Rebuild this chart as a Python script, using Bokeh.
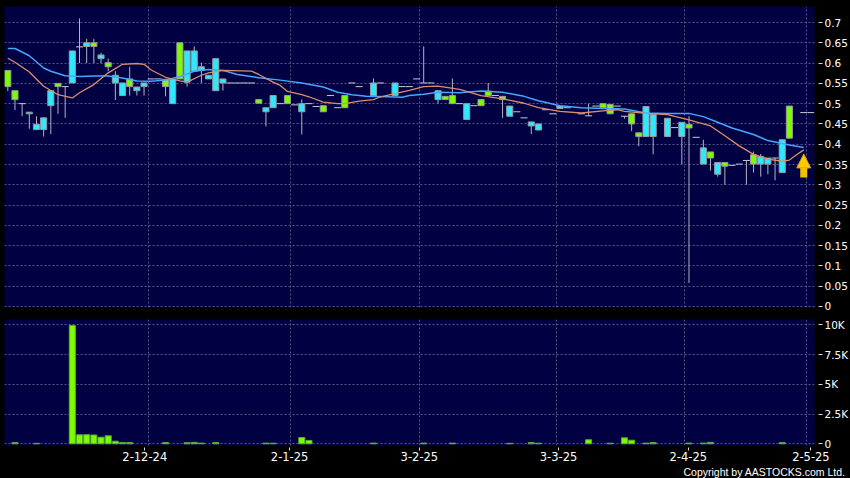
from bokeh.plotting import figure
from bokeh.layouts import column
from bokeh.models import (ColumnDataSource, FixedTicker, Range1d, NumeralTickFormatter,
                          Title, Arrow, NormalHead)
from bokeh.embed import file_html
from bokeh.resources import INLINE

# ---------------- data ----------------
days = [0, 1, 2, 3, 4, 5, 6, 7, 8, 9, 10, 11, 12, 13, 14, 15, 16, 17, 18, 19,
        20, 21, 22, 23, 24, 25, 26, 27, 28, 29, 30, 31, 32, 33, 34, 35, 36, 37, 38, 39,
        40, 41, 42, 43, 44, 45, 46, 47, 48, 49, 51, 52, 54, 55, 56, 57, 58, 59,
        60, 61, 62, 63, 64, 65, 66, 67, 68, 69, 70, 71, 72, 73, 74, 75, 76, 77, 78,
        80, 81, 82, 83, 84, 85, 86, 87, 88, 89, 90, 92, 93, 94, 95, 96, 97, 98, 99,
        100, 101, 102, 103, 104, 105, 106, 107, 108, 109, 111, 112]
opens = [.542, .510, .500, .479, .449, .465, .532, .542, .542, .630, .640, .650, .641, .620, .591, .570, .551, .542, .541, .551,
         .561, .561, .542, .561, .561, .630, .630, .591, .570, .611, .561, .551, .551, .551, .551, .501, .490, .520, .500, .500,
         .497, .500, .500, .493, .480, .520, .490, .490, .551, .542, .551, .551, .551, .542, .542, .561, .551, .551,
         .532, .510, .500, .500, .500, .495, .495, .520, .520, .510, .494, .480, .465, .455, .450, .485, .475, .494, .490,
         .475, .470, .494, .490, .475, .494, .469, .450, .419, .493, .474, .464, .441, .454, .440, .417, .391, .366, .355,
         .346, .348, .351, .360, .351, .370, .366, .366, .411, .415, .478, .478]
highs = [.582, .532, .500, .479, .469, .465, .532, .550, .542, .630, .710, .660, .660, .625, .611, .580, .551, .591, .541, .551,
         .561, .561, .560, .561, .650, .630, .641, .601, .570, .611, .561, .551, .551, .551, .551, .510, .490, .520, .500, .520,
         .497, .510, .500, .493, .495, .520, .490, .520, .551, .542, .562, .551, .551, .542, .542, .561, .641, .551,
         .532, .518, .562, .500, .500, .495, .510, .551, .520, .518, .494, .480, .465, .455, .450, .485, .475, .494, .490,
         .475, .500, .494, .500, .498, .494, .469, .475, .428, .493, .474, .464, .441, .454, .469, .417, .411, .381, .355,
         .355, .348, .351, .360, .382, .376, .366, .366, .411, .494, .478, .478]
lows = [.531, .484, .469, .438, .436, .419, .425, .475, .465, .551, .600, .600, .600, .600, .580, .509, .520, .520, .520, .520,
        .561, .561, .518, .500, .561, .542, .580, .551, .561, .532, .532, .551, .551, .551, .551, .501, .444, .490, .500, .500,
        .497, .424, .500, .493, .480, .520, .490, .490, .551, .542, .520, .551, .520, .542, .542, .561, .551, .551,
        .500, .510, .500, .500, .461, .495, .495, .520, .520, .465, .469, .480, .465, .425, .435, .485, .475, .488, .490,
        .475, .470, .494, .490, .475, .494, .463, .432, .395, .419, .375, .419, .441, .351, .058, .417, .351, .335, .320,
        .300, .348, .351, .300, .330, .320, .326, .311, .330, .415, .478, .478]
closes = [.582, .532, .500, .475, .436, .436, .495, .550, .542, .551, .640, .641, .650, .611, .601, .551, .520, .561, .532, .542,
          .561, .561, .560, .500, .650, .553, .580, .582, .561, .532, .551, .551, .551, .551, .551, .510, .480, .490, .500, .520,
          .497, .480, .500, .493, .495, .520, .490, .520, .551, .542, .520, .551, .520, .542, .542, .561, .551, .551,
          .510, .518, .520, .500, .461, .495, .510, .531, .520, .518, .469, .480, .465, .445, .435, .485, .475, .488, .490,
          .475, .470, .494, .500, .498, .494, .469, .475, .428, .419, .419, .419, .441, .419, .449, .417, .351, .381, .326,
          .355, .348, .351, .360, .374, .351, .351, .366, .330, .494, .478, .478]

vol_days = [1, 4, 9, 10, 11, 12, 13, 14, 15, 16, 17, 22, 25, 26, 27, 29, 36, 37, 41, 42,
            51, 58, 62, 70, 73, 74, 81, 84, 86, 87, 89, 90, 95, 97, 98, 108]
vol_values = [110, 40, 9950, 756, 765, 740, 555, 670, 220, 110, 110, 110, 90, 120, 60, 100, 60, 50, 530, 280,
              60, 60, 60, 40, 100, 50, 340, 50, 500, 300, 60, 100, 60, 60, 120, 100]

ma_slow_days = [0, 1, 3, 5, 6, 8, 10, 12, 14, 16, 18, 20, 22, 24, 26, 28, 30, 32, 35, 38, 41, 44, 46, 48, 50,
                53, 55, 56, 58, 60, 63, 66, 69, 72, 74, 77, 80, 83, 86, 89, 92, 95, 97, 99, 101, 104, 106, 109, 111]
ma_slow = [.636, .636, .618, .588, .580, .569, .567, .568, .568, .563, .556, .555, .558, .567, .580, .584, .582, .572,
           .564, .558, .551, .541, .528, .522, .518, .517, .516, .520, .523, .528, .527, .531, .528, .518, .507, .495,
           .490, .488, .487, .477, .476, .476, .468, .454, .440, .424, .409, .398, .392]
ma_fast_days = [0, 1, 3, 5, 7, 9, 10, 12, 14, 16, 18, 19, 20, 22, 24, 25, 27, 28, 30, 34, 35, 37, 38, 39, 41, 42,
                44, 46, 47, 49, 51, 52, 54, 56, 58, 60, 63, 66, 69, 72, 74, 77, 80, 83, 85, 86, 89, 92, 95, 98,
                100, 102, 104, 106, 108, 109, 110, 111]
ma_fast = [.612, .602, .578, .543, .522, .514, .527, .547, .576, .597, .599, .597, .583, .565, .556, .553, .570, .576,
           .582, .580, .572, .553, .545, .530, .522, .517, .504, .500, .500, .506, .510, .517, .525, .533, .542, .543,
           .535, .520, .512, .501, .490, .481, .477, .482, .485, .481, .476, .473, .460, .445, .421, .396, .375, .363,
           .358, .361, .374, .386]

price_ticks = [0, 0.05, 0.1, 0.15, 0.2, 0.25, 0.3, 0.35, 0.4, 0.45, 0.5, 0.55, 0.6, 0.65, 0.7]
vol_ticks = [0, 2500, 5000, 7500, 10000]
vol_labels = ["0", "2.5K", "5K", "7.5K", "10K"]
month_grid_days = [19.6, 39.4, 57.4, 76.5, 94.4, 111.4]
month_label_days = [19.1, 39.3, 57.4, 76.8, 94.9, 112.0]
month_labels = ["2-12-24", "2-1-25", "3-2-25", "3-3-25", "2-4-25", "2-5-25"]
arrow_day, arrow_low, arrow_high = 111, 0.318, 0.376
copyright_text = "Copyright by AASTOCKS.com Ltd."

# ---------------- styling ----------------
NAVY = "#000042"
GRIDC = "#55558a"
GREEN = "#7cfc00"
CYAN = "#2ee8ff"
WICK = "#b4b4c0"
FONT = "DejaVu Sans"

up_i = [i for i in range(len(days)) if closes[i] > opens[i]]
dn_i = [i for i in range(len(days)) if closes[i] < opens[i]]
fl_i = [i for i in range(len(days)) if closes[i] == opens[i]]

src_all = ColumnDataSource(dict(x=days, lo=lows, hi=highs))
src_up = ColumnDataSource(dict(x=[days[i] for i in up_i], top=[closes[i] for i in up_i],
                               bottom=[opens[i] for i in up_i]))
src_dn = ColumnDataSource(dict(x=[days[i] for i in dn_i], top=[opens[i] for i in dn_i],
                               bottom=[closes[i] for i in dn_i]))
src_fl = ColumnDataSource(dict(x=[days[i] for i in fl_i], y=[opens[i] for i in fl_i]))

x_rng = Range1d(-0.46, 112.5)

common = dict(output_backend="svg", toolbar_location=None, frame_width=810,
              background_fill_color=NAVY, border_fill_color="black", outline_line_color=None,
              min_border_left=4, min_border_right=36, y_axis_location="right")

p = figure(frame_height=301, x_range=x_rng, y_range=Range1d(-0.0025, 0.7395),
           x_axis_location=None, min_border_top=6, min_border_bottom=11, **common)

p.segment(x0="x", y0="lo", x1="x", y1="hi", source=src_all, line_color=WICK, line_width=1)
p.vbar(x="x", top="top", bottom="bottom", width=0.85, source=src_up,
       fill_color=GREEN, line_color="#9a9a9a", line_width=1)
p.vbar(x="x", top="top", bottom="bottom", width=0.85, source=src_dn,
       fill_color=CYAN, line_color="#9a9a9a", line_width=1)
p.scatter(x="x", y="y", source=src_fl, marker="dash", size=7, line_color="#c8c8d0", line_width=1)
p.line(ma_slow_days, ma_slow, line_color="#45a6ff", line_width=1.5)
p.line(ma_fast_days, ma_fast, line_color="#dc8e6c", line_width=1.3)

p.add_layout(Arrow(end=NormalHead(size=14, fill_color="#ffcc00", line_color="#d49a00", line_width=1),
                   x_start=arrow_day, y_start=arrow_low, x_end=arrow_day, y_end=arrow_high,
                   line_color="#f2c000", line_width=7))

v = figure(frame_height=126, x_range=x_rng, y_range=Range1d(-143, 10445),
           x_axis_location="below", min_border_top=1, min_border_bottom=33, **common)
v.vbar(x=vol_days, top=vol_values, bottom=0, width=0.85, fill_color=GREEN,
       line_color="#5aa83a", line_width=1)

for fig in (p, v):
    fig.xgrid.ticker = FixedTicker(ticks=month_grid_days)
    fig.grid.grid_line_color = GRIDC
    fig.grid.grid_line_dash = "2 2"
    fig.grid.grid_line_width = 1
    ax = fig.yaxis
    ax.axis_line_color = None
    ax.major_tick_line_color = "#d8d8d8"
    ax.minor_tick_line_color = None
    ax.major_tick_in = -4
    ax.major_tick_out = 8
    ax.major_label_standoff = 2
    ax.major_label_text_color = "white"
    ax.major_label_text_font = FONT
    ax.major_label_text_font_size = "10.5px"

pt = FixedTicker(ticks=price_ticks)
p.yaxis.ticker = pt
p.ygrid.ticker = pt
p.yaxis.formatter = NumeralTickFormatter(format="0.[00]")

vt = FixedTicker(ticks=vol_ticks)
v.yaxis.ticker = vt
v.ygrid.ticker = vt
v.yaxis.major_label_overrides = dict(zip(vol_ticks, vol_labels))

xa = v.xaxis
xa.ticker = FixedTicker(ticks=month_label_days)
xa.major_label_overrides = dict(zip(month_label_days, month_labels))
xa.axis_line_color = None
xa.major_tick_line_color = "#d8d8d8"
xa.minor_tick_line_color = None
xa.major_tick_in = -2
xa.major_tick_out = 5
xa.major_label_standoff = 1
xa.major_label_text_color = "white"
xa.major_label_text_font = FONT
xa.major_label_text_font_size = "11.5px"

v.add_layout(Title(text=copyright_text, align="right", text_color="white",
                   text_font="Liberation Sans", text_font_size="10.5px", text_font_style="normal",
                   standoff=0, offset=-31), "below")

layout = column(p, v, spacing=0, background="black")
open("out.html", "w").write(file_html(layout, INLINE))
